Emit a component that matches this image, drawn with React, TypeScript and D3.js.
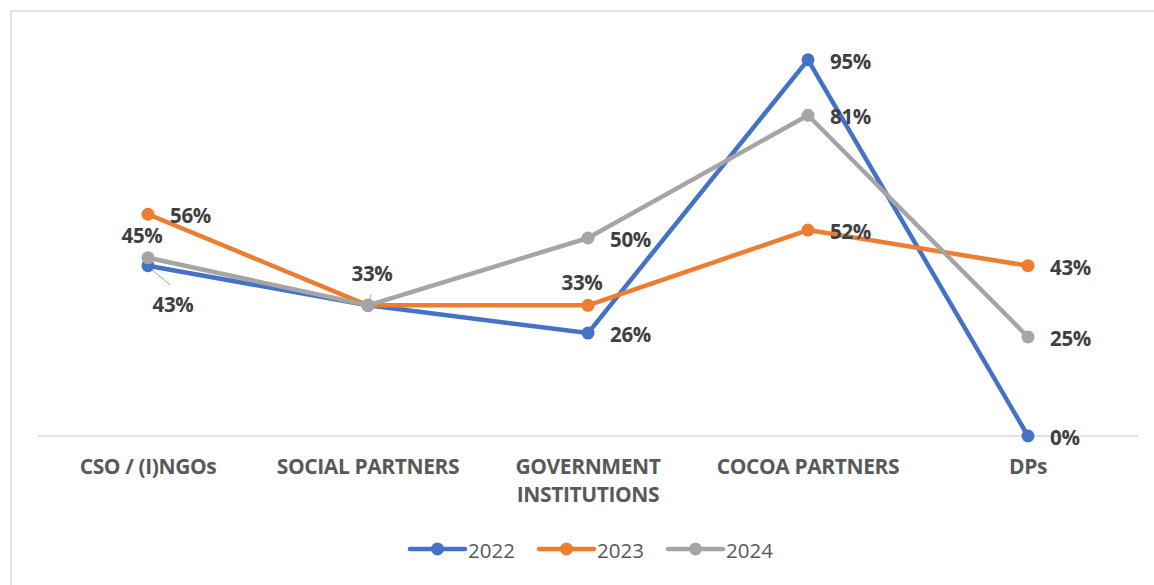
import React from 'react';
import * as d3 from 'd3';

const categories = ['CSO / (I)NGOs', 'SOCIAL PARTNERS', 'GOVERNMENT INSTITUTIONS', 'COCOA PARTNERS', 'DPs'];
const years = ['2022', '2023', '2024'];
const values2022 = [43, 33, 26, 95, 0];
const values2023 = [56, 33, 33, 52, 43];
const values2024 = [45, 33, 50, 81, 25];
const colors = ['#4472c4', '#ed7d31', '#a5a5a5'];

// label placement per series/point: 'r' right, 'a' above, 'b' below w/ leader, '' hidden
const labelPos2022 = ['b', '', 'r', 'r', 'r'];
const labelPos2023 = ['r', '', 'a', 'r', 'r'];
const labelPos2024 = ['a', 'lead', 'r', 'r', 'r'];

const W = 1154;
const H = 585;
const FONT = '"Open Sans", "Noto Sans", sans-serif';

const App: React.FC = () => {
    const series = [values2022, values2023, values2024];
    const positions = [labelPos2022, labelPos2023, labelPos2024];

    const x = d3.scaleBand().domain(categories).range([38, 1138]);
    const y = d3.scaleLinear().domain([0, 100]).range([436, 40]);
    const cx = (c: string) => (x(c) || 0) + x.bandwidth() / 2;

    const line = d3.line<number>()
        .x((_, i) => cx(categories[i]))
        .y(d => y(d));

    const wrap = (c: string) => c === 'GOVERNMENT INSTITUTIONS' ? ['GOVERNMENT', 'INSTITUTIONS'] : [c];

    return (
        <svg width={W} height={H} style={{ position: 'absolute', left: 0, top: 0, background: '#fff' }}>
            <rect x={11} y={11} width={W} height={H} fill="#fff" stroke="#d9d9d9" strokeWidth={1.5} />
            <line x1={38} x2={1138} y1={y(0)} y2={y(0)} stroke="#d9d9d9" strokeWidth={1.5} />

            {categories.map(c => (
                <text key={c} x={cx(c)} y={474} textAnchor="middle" fontFamily={FONT} fontWeight={700}
                    fontSize={21} fill="#595959" style={{ letterSpacing: '-0.4px' }}>
                    {wrap(c).map((t, i) => (
                        <tspan key={t} x={cx(c)} dy={i === 0 ? 0 : 28}>{t}</tspan>
                    ))}
                </text>
            ))}

            {series.map((s, k) => (
                <g key={years[k]}>
                    <path d={line(s) || ''} fill="none" stroke={colors[k]} strokeWidth={4.5} strokeLinejoin="round" strokeLinecap="round" />
                    {s.map((v, i) => (
                        <circle key={i} cx={cx(categories[i])} cy={y(v)} r={6.5} fill={colors[k]} />
                    ))}
                </g>
            ))}

            {series.map((s, k) => s.map((v, i) => {
                const p = positions[k][i];
                if (!p) return null;
                const px = cx(categories[i]);
                const py = y(v);
                const common = { fontFamily: FONT, fontWeight: 700, fontSize: 20.5, fill: '#404040', dominantBaseline: 'central' as const, style: { letterSpacing: '-0.3px' } };
                if (p === 'r') return <text key={`${k}-${i}`} x={px + 22} y={py + 1} {...common}>{v}%</text>;
                if (p === 'a') return <text key={`${k}-${i}`} x={px - 6} y={py - 23} textAnchor="middle" {...common}>{v}%</text>;
                if (p === 'b') return (
                    <g key={`${k}-${i}`}>
                        <line x1={px + 4} y1={py + 4} x2={px + 22} y2={py + 19} stroke="#a5a5a5" strokeWidth={1} />
                        <text x={px + 25} y={py + 38} textAnchor="middle" {...common}>{v}%</text>
                    </g>
                );
                return (
                    <g key={`${k}-${i}`}>
                        <line x1={px + 1} y1={py - 4} x2={px + 3} y2={py - 11} stroke="#a5a5a5" strokeWidth={1} />
                        <text x={px + 4} y={py - 32} textAnchor="middle" {...common}>{v}%</text>
                    </g>
                );
            }))}

            {years.map((yr, k) => {
                const lx = 410 + k * 129;
                return (
                    <g key={yr}>
                        <line x1={lx} x2={lx + 55} y1={549} y2={549} stroke={colors[k]} strokeWidth={4.5} strokeLinecap="round" />
                        <circle cx={lx + 27.5} cy={549} r={6.5} fill={colors[k]} />
                        <text x={lx + 58} y={550} dominantBaseline="central" fontFamily={FONT} fontSize={20.5} fill="#595959">{yr}</text>
                    </g>
                );
            })}
        </svg>
    );
};

export default App;
